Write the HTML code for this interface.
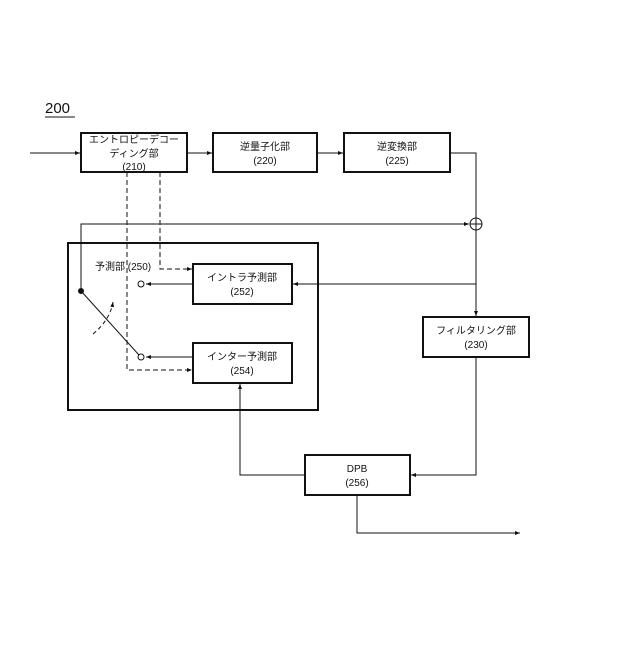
<!DOCTYPE html>
<html><head><meta charset="utf-8"><style>
body{margin:0;background:#fff}
svg text{font-family:"Liberation Sans","Noto Sans CJK JP",sans-serif;fill:#111}
</style></head><body>
<svg width="640" height="640" viewBox="0 0 640 640" xmlns="http://www.w3.org/2000/svg">
<defs><marker id="a" markerWidth="6" markerHeight="6" refX="5" refY="3" orient="auto"><path d="M0,1 L5,3 L0,5z" fill="#111"/></marker></defs>
<g fill="none" stroke="#111" stroke-width="1">
<text x="45" y="113" font-size="15" stroke="none">200</text>
<line x1="45" y1="117" x2="75" y2="117"/>
<g stroke-width="2">
<rect x="81" y="133" width="106" height="39"/>
<rect x="213" y="133" width="104" height="39"/>
<rect x="344" y="133" width="106" height="39"/>
<rect x="68" y="243" width="250" height="167"/>
<rect x="193" y="264" width="99" height="40"/>
<rect x="193" y="343" width="99" height="40"/>
<rect x="423" y="317" width="106" height="40"/>
<rect x="305" y="455" width="105" height="40"/>
</g>
<line x1="30" y1="153" x2="80" y2="153" marker-end="url(#a)"/>
<line x1="187" y1="153" x2="212" y2="153" marker-end="url(#a)"/>
<line x1="317" y1="153" x2="343" y2="153" marker-end="url(#a)"/>
<polyline points="450,153 476,153 476,218"/>
<circle cx="476" cy="224" r="6"/>
<line x1="470" y1="224" x2="482" y2="224"/><line x1="476" y1="218" x2="476" y2="230"/>
<polyline points="81,291 81,224 469,224" marker-end="url(#a)"/>
<line x1="476" y1="230" x2="476" y2="316" marker-end="url(#a)"/>
<line x1="476" y1="284" x2="293" y2="284" marker-end="url(#a)"/>
<line x1="193" y1="284" x2="146" y2="284" marker-end="url(#a)"/>
<line x1="193" y1="357" x2="146" y2="357" marker-end="url(#a)"/>
<circle cx="141" cy="284" r="3"/><circle cx="141" cy="357" r="3"/>
<circle cx="81" cy="291" r="2.5" fill="#111"/>
<line x1="81" y1="291" x2="139" y2="355"/>
<path d="M93,334 Q110,320 113,302" stroke-dasharray="4,3" marker-end="url(#a)"/>
<polyline points="127,172 127,370 192,370" stroke-dasharray="5,3" marker-end="url(#a)"/>
<polyline points="160,172 160,269 192,269" stroke-dasharray="5,3" marker-end="url(#a)"/>
<polyline points="476,357 476,475 411,475" marker-end="url(#a)"/>
<polyline points="305,475 240,475 240,384" marker-end="url(#a)"/>
<polyline points="357,495 357,533 520,533" marker-end="url(#a)"/>
</g>
<g font-size="10" text-anchor="middle">
<text x="134" y="143">エントロピーデコー</text>
<text x="134" y="157">ディング部</text>
<text x="134" y="170">(210)</text>
<text x="265" y="150">逆量子化部</text>
<text x="265" y="164">(220)</text>
<text x="397" y="150">逆変換部</text>
<text x="397" y="164">(225)</text>
<text x="242" y="281">イントラ予測部</text>
<text x="242" y="295">(252)</text>
<text x="242" y="360">インター予測部</text>
<text x="242" y="374">(254)</text>
<text x="476" y="334">フィルタリング部</text>
<text x="476" y="348">(230)</text>
<text x="357" y="472">DPB</text>
<text x="357" y="486">(256)</text>
<text x="95" y="270" text-anchor="start">予測部 (250)</text>
</g>
</svg>
</body></html>
